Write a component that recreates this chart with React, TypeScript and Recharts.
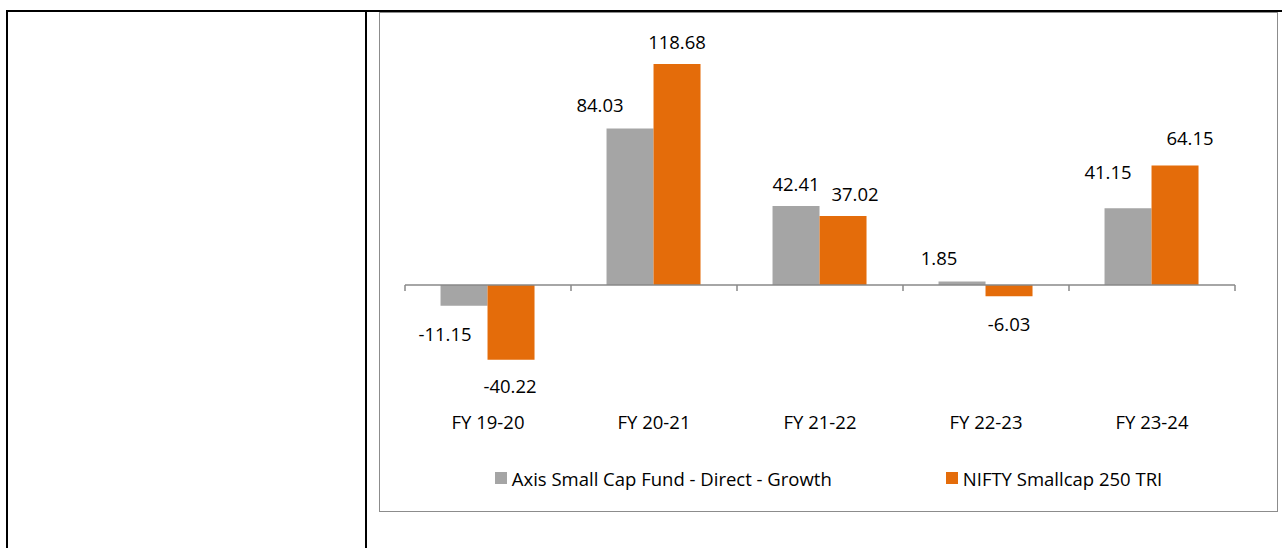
import { BarChart, Bar, XAxis, YAxis, ReferenceLine, LabelList, Legend } from 'recharts';

const categories = ['FY 19-20', 'FY 20-21', 'FY 21-22', 'FY 22-23', 'FY 23-24'];
const axisFund = [-11.15, 84.03, 42.41, 1.85, 41.15];
const niftyTri = [-40.22, 118.68, 37.02, -6.03, 64.15];
const seriesNames = ['Axis Small Cap Fund - Direct - Growth', 'NIFTY Smallcap 250 TRI'];
const seriesColors = ['#a5a5a5', '#e46c0a'];

// hand-placed label nudges [dx, dy] from the picture (labels were dragged in the source)
const axisNudge = [[-19, 1], [-30, -1], [0, 0], [-23, -1], [-20, -14]];
const niftyNudge = [[-1, -1], [0, 1], [12, 0], [0, 0], [15, -5]];

const data = categories.map((c, i) => ({ name: c, axis: axisFund[i], nifty: niftyTri[i] }));

const FONT = '"Open Sans", sans-serif';
const FS = 18.5;
const AXIS_GREY = '#898989';

// eslint-disable-next-line @typescript-eslint/no-explicit-any
const valueLabel = (nudges: number[][]) => (p: any) => {
  const { x, y, width, height, value, index } = p;
  const top = Math.min(y, y + height);
  const bottom = Math.max(y, y + height);
  const [dx, dy] = nudges[index] || [0, 0];
  const cy = value >= 0 ? top - 23 + dy : bottom + 27 + dy;
  return (
    <text x={x + width / 2 + dx} y={cy} textAnchor="middle" dominantBaseline="central" fontFamily={FONT} fontSize={FS} fill="#000">
      {Number(value).toFixed(2)}
    </text>
  );
};

// zero line with Excel-style category boundary ticks
// eslint-disable-next-line @typescript-eslint/no-explicit-any
const zeroLine = (p: any) => {
  const { x1, y1, x2 } = p;
  const n = categories.length;
  const step = (x2 - x1) / n;
  return (
    <g>
      <line x1={x1} y1={y1} x2={x2} y2={y1} stroke={AXIS_GREY} strokeWidth={1.5} />
      {categories.concat(['']).map((_, i) => (
        <line key={i} x1={x1 + i * step} x2={x1 + i * step} y1={y1} y2={y1 + 6} stroke={AXIS_GREY} strokeWidth={1.5} />
      ))}
    </g>
  );
};

const renderLegend = () => (
  <div style={{ display: 'flex', justifyContent: 'center', alignItems: 'center', gap: 114, height: 20, fontFamily: FONT, fontSize: FS, color: '#000' }}>
    {seriesNames.map((s, i) => (
      <div key={s} style={{ display: 'flex', alignItems: 'center' }}>
        <span style={{ width: 12, height: 12, background: seriesColors[i], marginRight: 5, display: 'inline-block' }} />
        <span style={{ whiteSpace: 'nowrap' }}>{s}</span>
      </div>
    ))}
  </div>
);

export default function App() {
  return (
    <div style={{ position: 'absolute', left: 0, top: 0, width: 1282, height: 548, background: '#fff', overflow: 'hidden' }}>
      {/* table borders */}
      <div style={{ position: 'absolute', left: 6, top: 10, width: 1276, height: 2, background: '#000' }} />
      <div style={{ position: 'absolute', left: 6, top: 10, width: 2, height: 538, background: '#000' }} />
      <div style={{ position: 'absolute', left: 365, top: 10, width: 2, height: 538, background: '#000' }} />
      {/* chart frame */}
      <div style={{ position: 'absolute', left: 379, top: 12, width: 899, height: 500, border: '1px solid #8c8c8c', boxSizing: 'border-box' }} />
      <div style={{ position: 'absolute', left: 380, top: 13 }}>
        <BarChart
          width={897}
          height={498}
          data={data}
          margin={{ top: 11.3, right: 42, left: 25, bottom: 84.3 }}
          barCategoryGap="21.4%"
          barGap={0}
        >
          <XAxis
            dataKey="name"
            axisLine={false}
            tickLine={false}
            tickMargin={13}
            height={30}
            interval={0}
            tick={{ fontFamily: FONT, fontSize: FS, fill: '#000' }}
          />
          <YAxis hide domain={[-60, 140]} />
          <ReferenceLine y={0} shape={zeroLine} />
          <Bar dataKey="axis" name={seriesNames[0]} fill={seriesColors[0]} isAnimationActive={false}>
            <LabelList dataKey="axis" content={valueLabel(axisNudge)} />
          </Bar>
          <Bar dataKey="nifty" name={seriesNames[1]} fill={seriesColors[1]} isAnimationActive={false}>
            <LabelList dataKey="nifty" content={valueLabel(niftyNudge)} />
          </Bar>
          <Legend verticalAlign="middle" content={renderLegend} wrapperStyle={{ left: 0, top: 455, width: 897 }} />
        </BarChart>
      </div>
    </div>
  );
}
